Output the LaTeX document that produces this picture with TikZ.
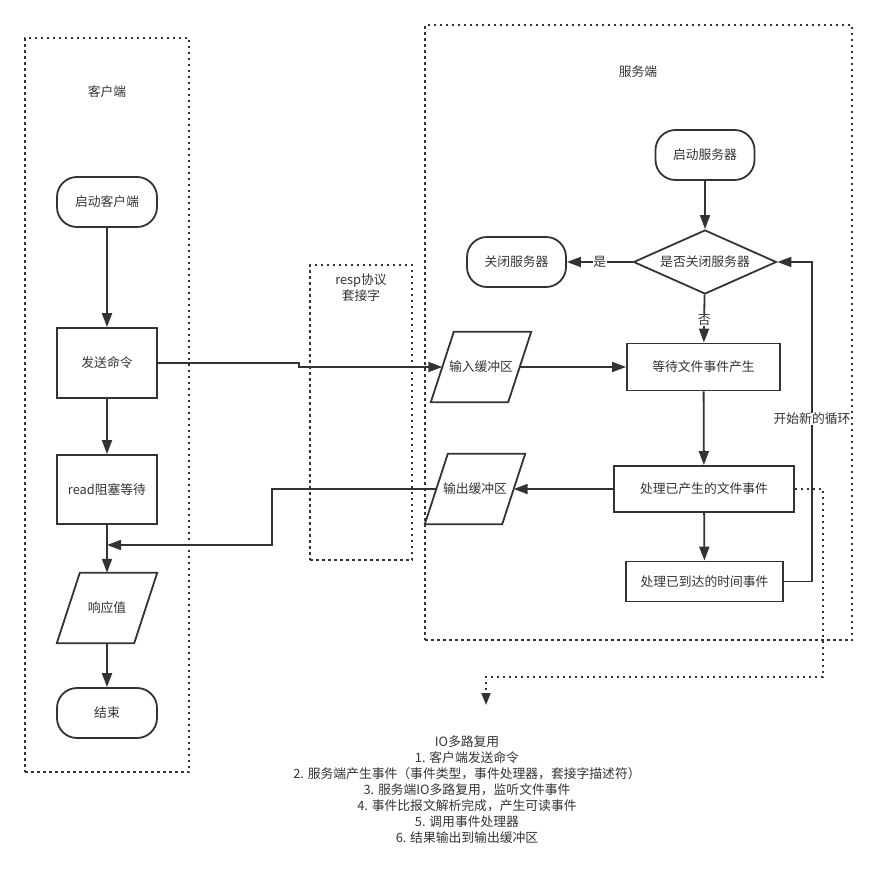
\documentclass[tikz,border=0pt]{standalone}
\usepackage{fontspec}
\setmainfont{Noto Sans CJK SC}
\usetikzlibrary{arrows.meta,shapes.geometric}
\definecolor{ink}{HTML}{333333}
\begin{document}
\begin{tikzpicture}[x=1pt,y=-1pt,
  font=\fontsize{12.8}{16}\selectfont, text=ink,
  shp/.style={draw=ink, line width=1.8pt, inner sep=0pt, align=center},
  term/.style={shp, rounded corners=20pt},
  proc/.style={shp},
  io/.style={inner sep=0pt, align=center},
  dec/.style={shp, diamond, aspect=2.23},
  conn/.style={draw=ink, line width=1.8pt, -{Triangle[length=14pt,width=10pt]}},
  plain/.style={draw=ink, line width=1.8pt},
  dots/.style={draw=ink, line width=1.8pt, dash pattern=on 2.5pt off 3.5pt, inner sep=0pt},
  lbl/.style={inner sep=0.5pt, fill=white}
]
\useasboundingbox (0,0) rectangle (876,894);

% containers
\node[dots, minimum width=164pt, minimum height=734pt] (client) at (107,405) {};
\node[dots, minimum width=102pt, minimum height=295pt] (sock) at (361,412.5) {};
\node[dots, minimum width=427pt, minimum height=615pt] (server) at (638.5,332.5) {};

\node (clientlbl) at (107,92) {客户端};
\node[align=center] (socklbl) at (361,287.5) {resp协议\\套接字};
\node (serverlbl) at (638,72) {服务端};

% client flow
\node[term, minimum width=100pt, minimum height=50pt] (cstart) at (107,202) {启动客户端};
\node[proc, minimum width=100pt, minimum height=70pt] (send) at (107,363) {发送命令};
\node[proc, minimum width=100pt, minimum height=69pt] (read) at (107,489.5) {read阻塞等待};
\node[io, minimum width=100pt, minimum height=70pt] (resp) at (107,608) {响应值};
\draw[plain] ([xshift=23pt]resp.north west) -- (resp.north east) -- ([xshift=-23pt]resp.south east) -- (resp.south west) -- cycle;
\node[term, minimum width=100pt, minimum height=50pt] (cend) at (107,713) {结束};
\coordinate (join) at (107,545);

\draw[conn] (cstart) -- (send);
\draw[conn] (send) -- (read);
\draw[conn] (read) -- (resp.north);
\draw[conn] (resp.south) -- (cend);

% server flow
\node[term, minimum width=99pt, minimum height=50pt] (sstart) at (705,155) {启动服务器};
\node[dec, minimum width=143pt, minimum height=64pt] (dec) at (705,262) {是否关闭服务器};
\node[term, minimum width=99pt, minimum height=50pt] (sclose) at (516.5,262) {关闭服务器};
\node[proc, minimum width=153pt, minimum height=47pt] (wait) at (703.5,367) {等待文件事件产生};
\node[io, minimum width=100pt, minimum height=70pt] (inbuf) at (481,367) {输入缓冲区};
\draw[plain] ([xshift=23pt]inbuf.north west) -- (inbuf.north east) -- ([xshift=-23pt]inbuf.south east) -- (inbuf.south west) -- cycle;
\node[proc, minimum width=180pt, minimum height=46pt] (handle) at (704,489) {处理已产生的文件事件};
\node[io, minimum width=100pt, minimum height=70pt] (outbuf) at (475,489) {输出缓冲区};
\draw[plain] ([xshift=23pt]outbuf.north west) -- (outbuf.north east) -- ([xshift=-23pt]outbuf.south east) -- (outbuf.south west) -- cycle;
\node[proc, minimum width=157pt, minimum height=40pt] (timer) at (704.5,581.5) {处理已到达的时间事件};

\draw[conn] (sstart) -- (dec);
\draw[conn] (dec) -- node[lbl] {是} (sclose);
\draw[conn] (dec) -- node[lbl, pos=0.52] {否} (wait);
\draw[conn] (wait) -- (handle);
\draw[conn] (handle) -- (timer);
\coordinate (loopturn) at (812,419);
\draw[conn] (timer.east) -| (loopturn) node[lbl] {开始新的循环} |- (dec.east);

% between client and server
\coordinate (jog) at (299,363);
\draw[conn] (send.east) -- (jog) -- ++(0,4) -- ([xshift=11.5pt]inbuf.west);
\draw[conn] ([xshift=-11.5pt]inbuf.east) -- (wait.west);
\draw[conn] (handle.west) -- ([xshift=-11.5pt]outbuf.east);
\coordinate (outturn) at (272,489);
\draw[conn] ([xshift=11.5pt]outbuf.west) -- (outturn) |- (join);

% dotted to the note
\coordinate (dturn) at (823,677);
\coordinate (notetip) at (486,705);
\draw[dots, -{Triangle[length=12pt,width=9pt]}] (handle.east) -| (dturn) -| (notetip);

\node[align=center] (note) at (467,790) {IO多路复用\\1. 客户端发送命令\\2. 服务端产生事件（事件类型，事件处理器，套接字描述符）\\3. 服务端IO多路复用，监听文件事件\\4. 事件比报文解析完成，产生可读事件\\5. 调用事件处理器\\6. 结果输出到输出缓冲区};
\end{tikzpicture}
\end{document}
